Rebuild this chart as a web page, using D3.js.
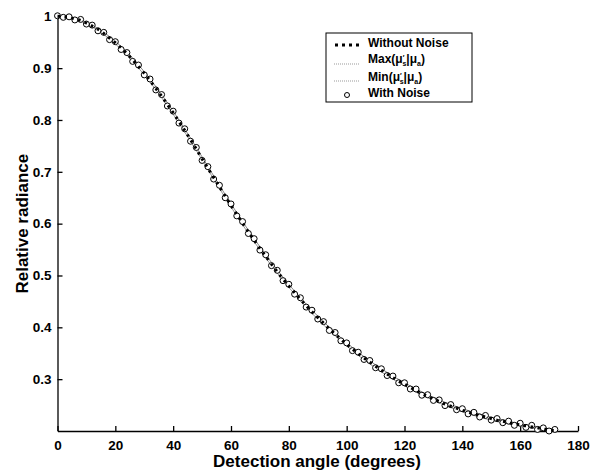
<!DOCTYPE html>
<html>
<head>
<meta charset="utf-8">
<script src="https://cdn.jsdelivr.net/npm/d3@7"></script>
<style>
  body { margin: 0; background: #fff; }
  svg { display: block; font-family: "Liberation Sans", Arial, sans-serif; }
  .tick text { font-size: 13.5px; font-weight: bold; fill: #000; }
  .axis path, .axis line { stroke: #000; stroke-width: 1.3px; }
</style>
</head>
<body>
<svg id="chart" width="596" height="473"></svg>
<script>
  // detection angles (deg), one sample every 2 degrees
  const angles = [0,2,4,6,8,10,12,14,16,18,20,22,24,26,28,30,32,34,36,38,40,42,44,46,48,50,
    52,54,56,58,60,62,64,66,68,70,72,74,76,78,80,82,84,86,88,90,92,94,96,98,100,
    102,104,106,108,110,112,114,116,118,120,122,124,126,128,130,132,134,136,138,140,
    142,144,146,148,150,152,154,156,158,160,162,164,166,168,170,172];

  // without noise
  const cleanVals = [1.000,0.999,0.998,0.995,0.992,0.987,0.981,0.975,0.967,0.958,0.949,0.939,0.928,
    0.916,0.903,0.890,0.876,0.861,0.846,0.830,0.814,0.797,0.780,0.762,0.744,0.725,
    0.707,0.689,0.671,0.653,0.635,0.618,0.601,0.584,0.568,0.552,0.537,0.522,0.507,0.493,0.480,
    0.467,0.454,0.442,0.430,0.419,0.408,0.397,0.387,0.377,0.367,
    0.358,0.349,0.341,0.333,0.325,0.317,0.310,0.303,0.296,0.290,0.284,0.278,0.272,0.267,0.262,
    0.257,0.252,0.248,0.244,0.240,0.236,0.233,0.230,0.227,0.224,0.221,0.219,0.216,0.214,0.212,
    0.210,0.208,0.206,0.204,0.202,0.201];

  // with noise
  const noisyVals = [1.001,0.998,0.999,0.993,0.994,0.985,0.983,0.972,0.969,0.955,0.951,0.936,0.930,
    0.913,0.906,0.887,0.879,0.858,0.849,0.827,0.817,0.794,0.783,0.759,0.747,0.722,
    0.710,0.686,0.674,0.650,0.638,0.615,0.604,0.581,0.571,0.549,0.540,0.519,0.510,0.490,0.483,
    0.464,0.457,0.439,0.433,0.416,0.411,0.394,0.390,0.374,0.370,
    0.355,0.352,0.338,0.336,0.322,0.320,0.307,0.306,0.293,0.293,0.281,0.281,0.269,0.270,0.259,
    0.260,0.249,0.251,0.241,0.243,0.233,0.236,0.227,0.230,0.221,0.224,0.216,0.219,0.211,0.215,
    0.207,0.211,0.203,0.206,0.200,0.203];

  // max / min of mu_s'|mu_a envelopes
  const envAngles = [0,8,16,24,32,40,48,56,64,72,80,88,96,104,112,120,128,136,144,152,160,168,172];
  const maxVals = [1.000,0.993,0.969,0.931,0.879,0.817,0.747,0.674,0.604,0.540,0.483,0.433,0.390,
    0.352,0.320,0.293,0.270,0.251,0.236,0.224,0.214,0.206,0.203];
  const minVals = [1.000,0.991,0.965,0.925,0.873,0.811,0.741,0.668,0.598,0.534,0.477,0.427,0.384,
    0.346,0.314,0.287,0.264,0.245,0.230,0.218,0.210,0.202,0.199];

  const xTicks = [0,20,40,60,80,100,120,140,160,180];
  const yTicks = [0.3,0.4,0.5,0.6,0.7,0.8,0.9,1];

  const svg = d3.select('#chart');
  const margin = {left: 57.5, right: 18, top: 16.3, bottom: 42};
  const width = 596, height = 473;

  const x = d3.scaleLinear().domain([0, 180]).range([margin.left, width - margin.right]);
  const y = d3.scaleLinear().domain([0.2, 1]).range([height - margin.bottom, margin.top]);

  //// Axes
  svg.append('g')
    .attr('class', 'axis')
    .attr('transform', `translate(0,${y(0.2)})`)
    .call(d3.axisBottom(x).tickValues(xTicks).tickSize(-5).tickPadding(9).tickSizeOuter(0))
    .call(g => g.selectAll('.tick text').attr('dy', '0.71em'));

  svg.append('g')
    .attr('class', 'axis')
    .attr('transform', `translate(${x(0)},0)`)
    .call(d3.axisLeft(y).tickValues(yTicks).tickSize(-5).tickPadding(6).tickSizeOuter(0)
      .tickFormat(d => d === 1 ? '1' : d3.format('.1f')(d)));

  svg.append('text')
    .attr('x', 317).attr('y', 467)
    .attr('text-anchor', 'middle')
    .style('font-size', '17px').style('font-weight', 'bold')
    .text('Detection angle (degrees)');

  svg.append('text')
    .attr('transform', `translate(28,${y(0.6)}) rotate(-90)`)
    .attr('text-anchor', 'middle')
    .style('font-size', '17px').style('font-weight', 'bold')
    .text('Relative radiance');

  //// Curves
  const line = d3.line().x(d => x(d[0])).y(d => y(d[1])).curve(d3.curveMonotoneX);

  svg.append('path')
    .datum(envAngles.map((a, i) => [a, maxVals[i]]))
    .attr('d', line)
    .attr('fill', 'none').attr('stroke', '#888').attr('stroke-width', 1);

  svg.append('path')
    .datum(envAngles.map((a, i) => [a, minVals[i]]))
    .attr('d', line)
    .attr('fill', 'none').attr('stroke', '#999').attr('stroke-width', 1);

  svg.append('g').selectAll('circle')
    .data(angles.map((a, i) => [a, noisyVals[i]]))
    .enter().append('circle')
    .attr('cx', d => x(d[0]))
    .attr('cy', d => y(d[1]))
    .attr('r', 3)
    .attr('fill', '#fff').attr('stroke', '#000').attr('stroke-width', 1);

  svg.append('path')
    .datum(angles.map((a, i) => [a, cleanVals[i]]))
    .attr('d', line)
    .attr('fill', 'none').attr('stroke', '#000')
    .attr('stroke-width', 3).attr('stroke-dasharray', '2.5,4.5');

  //// Legend
  const lg = svg.append('g');
  lg.append('rect')
    .attr('x', 326).attr('y', 33).attr('width', 146).attr('height', 69)
    .attr('fill', '#fff').attr('stroke', '#000').attr('stroke-width', 1);

  const legendRows = [
    {y: 45, type: 'dots'},
    {y: 62, type: 'gray'},
    {y: 79, type: 'gray'},
    {y: 94, type: 'circle'}
  ];
  legendRows.forEach(r => {
    if (r.type === 'dots') {
      lg.append('line').attr('x1', 335).attr('x2', 360).attr('y1', r.y).attr('y2', r.y)
        .attr('stroke', '#000').attr('stroke-width', 3).attr('stroke-dasharray', '3,4');
    } else if (r.type === 'gray') {
      lg.append('line').attr('x1', 334).attr('x2', 360).attr('y1', r.y + 2).attr('y2', r.y + 2)
        .attr('stroke', '#999').attr('stroke-width', 1).attr('stroke-dasharray', '1,1');
    } else {
      lg.append('circle').attr('cx', 347).attr('cy', r.y + 1).attr('r', 2.5)
        .attr('fill', '#fff').attr('stroke', '#000').attr('stroke-width', 1);
    }
  });

  const lt = (yy) => lg.append('text').attr('x', 368).attr('y', yy)
    .style('font-size', '12px').style('font-weight', 'bold');

  lt(47).text('Without Noise');

  function muLabel(t, name) {
    t.append('tspan').text(name + '(\u03bc');
    t.append('tspan').attr('dy', -3).style('font-size', '7px').text('\u2032');
    t.append('tspan').attr('dx', -2).attr('dy', 6).style('font-size', '7px').text('s');
    t.append('tspan').attr('dy', -3).text('|\u03bc');
    t.append('tspan').attr('dy', 3).style('font-size', '7px').text('a');
    t.append('tspan').attr('dy', -3).text(')');
  }
  muLabel(lt(63), 'Max');
  muLabel(lt(81), 'Min');
  lt(97).text('With Noise');
</script>
</body>
</html>
